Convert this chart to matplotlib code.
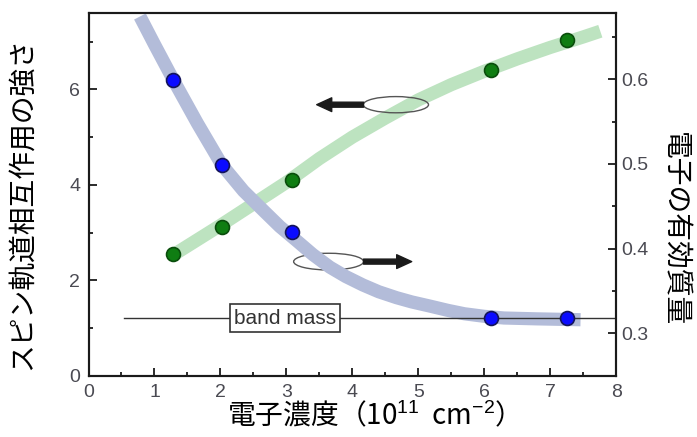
import matplotlib
matplotlib.use("Agg")
import matplotlib.pyplot as plt
from matplotlib.patches import Ellipse
from matplotlib.ticker import MultipleLocator

plt.rcParams['font.family'] = ['Liberation Sans', 'DejaVu Sans']
plt.rcParams['mathtext.fontset'] = 'custom'
plt.rcParams['mathtext.rm'] = 'Liberation Sans'
plt.rcParams['mathtext.it'] = 'Liberation Sans'
JP = ['Noto Sans CJK JP', 'DejaVu Sans']

# measured points
density = [1.28, 2.02, 3.09, 6.10, 7.26]
soi_strength = [2.55, 3.12, 4.10, 6.40, 7.03]      # left axis
eff_mass = [0.599, 0.499, 0.420, 0.318, 0.318]      # right axis

# guide curves
mass_curve_x = [0.78, 1.0, 1.28, 1.65, 2.02, 2.35, 2.65, 2.9, 3.16, 3.4, 3.66,
                3.9, 4.16, 4.4, 4.67, 4.9, 5.18, 5.45, 5.7, 6.0, 6.3, 6.8, 7.46]
mass_curve_y = [0.674, 0.641, 0.600, 0.548, 0.499, 0.468, 0.445, 0.426, 0.409,
                0.393, 0.378, 0.367, 0.357, 0.349, 0.342, 0.337, 0.332, 0.327,
                0.323, 0.320, 0.318, 0.317, 0.316]
soi_curve_x = [1.25, 2.0, 2.5, 3.0, 3.5, 4.0, 4.5, 5.0, 5.5, 6.0, 6.5, 7.0, 7.5, 7.76]
soi_curve_y = [2.50, 3.15, 3.60, 4.05, 4.55, 5.00, 5.40, 5.78, 6.10, 6.38, 6.64,
               6.88, 7.10, 7.22]

band_mass = 0.318

fig = plt.figure(figsize=(6.97, 4.37), dpi=100)
ax = fig.add_axes([0.127, 0.1405, 0.757, 0.8295])
ax2 = ax.twinx()

ax.plot(soi_curve_x, soi_curve_y, color='#bde3c0', lw=9.5, solid_capstyle='butt',
        solid_joinstyle='round', zorder=1)
ax.plot(density, soi_strength, 'o', ms=10, mfc='#0f7d12', mec='#0a4d0c', mew=1.2, zorder=3)

ax2.plot(mass_curve_x, mass_curve_y, color='#b3bcd9', lw=9.5, solid_capstyle='butt',
         solid_joinstyle='round', zorder=1)
ax2.plot([0.54, 8], [band_mass, band_mass], color='#333333', lw=1, zorder=2)
ax2.plot(density, eff_mass, 'o', ms=10, mfc='#0b0bff', mec='#14145a', mew=1.2, zorder=3)
ax2.text(2.98, band_mass, 'band mass', fontsize=15, ha='center', va='center',
         color='#333333', zorder=4,
         bbox=dict(boxstyle='square,pad=0.2', fc='white', ec='#333333', lw=1.2))

# ellipse + arrow markers
ax.add_patch(Ellipse((4.66, 5.68), 0.99, 0.34, fill=False, ec='#555555', lw=1, zorder=5))
ax.annotate('', xy=(3.46, 5.68), xytext=(4.17, 5.68),
            arrowprops=dict(arrowstyle='simple,head_length=0.6,head_width=0.55,tail_width=0.2',
                            mutation_scale=18, color='#1a1a1a', shrinkA=0, shrinkB=0), zorder=5)
ax.add_patch(Ellipse((3.64, 2.39), 1.06, 0.35, fill=False, ec='#555555', lw=1, zorder=5))
ax.annotate('', xy=(4.9, 2.39), xytext=(4.17, 2.39),
            arrowprops=dict(arrowstyle='simple,head_length=0.6,head_width=0.55,tail_width=0.2',
                            mutation_scale=18, color='#1a1a1a', shrinkA=0, shrinkB=0), zorder=5)

ax.set_xlim(0, 8)
ax.set_ylim(0, 7.6)
ax2.set_ylim(0.25, 0.678)

ax.xaxis.set_major_locator(MultipleLocator(1))
ax.xaxis.set_minor_locator(MultipleLocator(0.5))
ax.yaxis.set_major_locator(MultipleLocator(2))
ax.yaxis.set_minor_locator(MultipleLocator(1))
ax2.yaxis.set_major_locator(MultipleLocator(0.1))
ax2.yaxis.set_minor_locator(MultipleLocator(0.05))
ax2.set_yticks([0.3, 0.4, 0.5, 0.6])
ax2.set_yticklabels(['0.3', '0.4', '0.5', '0.6'])

for a in (ax, ax2):
    for s in a.spines.values():
        s.set_linewidth(1.5)
        s.set_color('#1a1a1a')
    a.tick_params(which='both', direction='in', width=1.3, colors='#1a1a1a',
                  labelcolor='#4a4a52', labelsize=14)
    a.tick_params(which='major', length=6)
    a.tick_params(which='minor', length=3)
ax.tick_params(axis='x', pad=6)
ax.tick_params(axis='y', pad=6)
ax2.tick_params(axis='y', pad=4)

fig.text(0.032, 0.535, 'スピン軌道相互作用の強さ', rotation=90, fontsize=20,
         family=JP, ha='center', va='center')
fig.text(0.968, 0.475, '電子の有効質量', rotation=-90, fontsize=20,
         family=JP, ha='center', va='center')
fig.text(0.525, 0.048, '電子濃度（10$^{11}$  cm$^{-2}$）', fontsize=20,
         family=JP, ha='center', va='center')

fig.savefig('out.png', dpi=100)
